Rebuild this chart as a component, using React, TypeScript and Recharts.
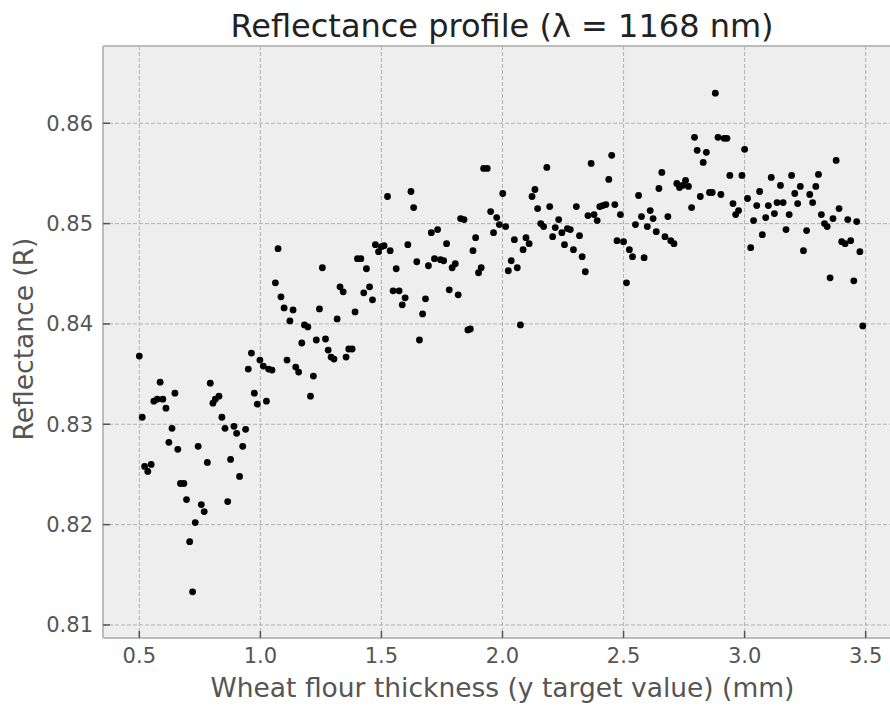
import { ScatterChart, Scatter, XAxis, YAxis, CartesianGrid, ReferenceLine } from "recharts";

// target flour thickness (mm) for each measurement
const thickness = [
  0.5, 0.512, 0.522, 0.535, 0.549, 0.56, 0.574, 0.586, 0.597, 0.61,
  0.622, 0.635, 0.647, 0.659, 0.67, 0.684, 0.695, 0.708, 0.72, 0.731,
  0.743, 0.756, 0.768, 0.781, 0.793, 0.804, 0.814, 0.829, 0.841, 0.854,
  0.865, 0.877, 0.891, 0.902, 0.914, 0.927, 0.939, 0.95, 0.963, 0.975,
  0.987, 0.998, 1.012, 1.025, 1.034, 1.048,
  1.062, 1.073, 1.085, 1.098, 1.11, 1.122, 1.135, 1.146, 1.158, 1.171,
  1.182, 1.196, 1.207, 1.219, 1.231, 1.244, 1.256, 1.269, 1.28, 1.292,
  1.304, 1.317, 1.329, 1.342, 1.354, 1.365, 1.379, 1.391, 1.401, 1.415,
  1.427, 1.438, 1.451, 1.463, 1.475, 1.488, 1.5, 1.511, 1.525, 1.536,
  1.548, 1.561, 1.573, 1.586, 1.598, 1.609, 1.622, 1.633, 1.646, 1.657,
  1.67, 1.682, 1.694, 1.706,
  1.719, 1.732, 1.744, 1.757, 1.769, 1.78, 1.792, 1.805, 1.817, 1.827,
  1.841, 1.857, 1.867, 1.878, 1.889, 1.901, 1.912, 1.922, 1.937, 1.951,
  1.963, 1.976, 1.987, 2.001, 2.013, 2.024, 2.036, 2.049, 2.061, 2.074,
  2.085, 2.097, 2.11, 2.122, 2.134, 2.145, 2.158, 2.17, 2.183, 2.195,
  2.207, 2.218, 2.232, 2.245, 2.256, 2.268, 2.28, 2.293, 2.305, 2.318,
  2.329, 2.342, 2.353, 2.366, 2.378, 2.391, 2.402, 2.414, 2.427, 2.439,
  2.451, 2.464, 2.473, 2.487,
  2.5, 2.512, 2.524, 2.537, 2.549, 2.562, 2.574, 2.585, 2.598, 2.61,
  2.622, 2.635, 2.646, 2.658, 2.671, 2.683, 2.695, 2.708, 2.72, 2.731,
  2.744, 2.756, 2.768, 2.781, 2.793, 2.804, 2.817, 2.829, 2.842, 2.855,
  2.866, 2.879, 2.89, 2.902, 2.915, 2.927, 2.939, 2.952, 2.963, 2.975,
  2.989, 3.0, 3.012, 3.025, 3.037, 3.05, 3.062, 3.073, 3.087, 3.098,
  3.11, 3.123, 3.134, 3.148, 3.159, 3.171, 3.184, 3.194, 3.207, 3.219,
  3.23, 3.243, 3.256, 3.269, 3.281, 3.294, 3.305, 3.317, 3.33, 3.341,
  3.353, 3.365, 3.378, 3.39, 3.401, 3.415, 3.426, 3.438, 3.451, 3.463,
  3.476, 3.488,
];

// measured reflectance at 1168 nm
const reflectance = [
  0.8368, 0.8307, 0.8258, 0.8253, 0.826, 0.8323, 0.8325, 0.8342, 0.8325, 0.8316,
  0.8282, 0.8296, 0.8331, 0.8275, 0.8241, 0.8241, 0.8225, 0.8183, 0.8133, 0.8202,
  0.8278, 0.822, 0.8213, 0.8262, 0.8341, 0.8321, 0.8325, 0.8328, 0.8307, 0.8296,
  0.8223, 0.8265, 0.8298, 0.8291, 0.8248, 0.8278, 0.8295, 0.8355, 0.8371, 0.8331,
  0.832, 0.8364, 0.8358, 0.8323, 0.8355, 0.8354,
  0.8441, 0.8475, 0.8427, 0.8416, 0.8364, 0.8403, 0.8414, 0.8357, 0.8352, 0.8381,
  0.8399, 0.8397, 0.8328, 0.8348, 0.8384, 0.8415, 0.8456, 0.8385, 0.8374, 0.8367,
  0.8365, 0.8405, 0.8437, 0.8432, 0.8367, 0.8375, 0.8375, 0.8412, 0.8465, 0.8465,
  0.8431, 0.8455, 0.8437, 0.8424, 0.8479, 0.8472, 0.8477, 0.8478, 0.8527, 0.8473,
  0.8433, 0.8455, 0.8433, 0.8419, 0.8426, 0.8479, 0.8532, 0.8516, 0.8462, 0.8384,
  0.841, 0.8425, 0.8458, 0.8491,
  0.8465, 0.8494, 0.8464, 0.8463, 0.848, 0.8434, 0.8456, 0.846, 0.8429, 0.8505,
  0.8504, 0.8394, 0.8395, 0.8473, 0.8486, 0.8451, 0.8456, 0.8555, 0.8555, 0.8512,
  0.8491, 0.8506, 0.8499, 0.853, 0.8497, 0.8453, 0.8463, 0.8484, 0.8456, 0.8399,
  0.8474, 0.8486, 0.848, 0.8527, 0.8534, 0.8515, 0.85, 0.8497, 0.8556, 0.8517,
  0.8487, 0.8496, 0.8504, 0.8491, 0.8479, 0.8495, 0.8494, 0.8474, 0.8517, 0.8488,
  0.8467, 0.8452, 0.8508, 0.856, 0.8509, 0.8503, 0.8517, 0.8518, 0.8519, 0.8544,
  0.8568, 0.8519, 0.8483, 0.8509,
  0.8482, 0.8441, 0.8474, 0.8467, 0.8499, 0.8528, 0.8507, 0.8466, 0.8497, 0.8513,
  0.8505, 0.8492, 0.8535, 0.8551, 0.8487, 0.8507, 0.8483, 0.848, 0.854, 0.8536,
  0.8538, 0.8543, 0.8537, 0.8516, 0.8586, 0.8573, 0.8527, 0.8561, 0.8571, 0.8531,
  0.8531, 0.863, 0.8586, 0.8529, 0.8585, 0.8585, 0.8548, 0.852, 0.8509, 0.8513,
  0.8548, 0.8574, 0.8525, 0.8476, 0.8503, 0.8518, 0.8532, 0.8489, 0.8506, 0.8518,
  0.8546, 0.851, 0.8521, 0.8538, 0.8521, 0.8494, 0.8509, 0.8548, 0.853, 0.852,
  0.8537, 0.8473, 0.8493, 0.8529, 0.8521, 0.8537, 0.8549, 0.8509, 0.85, 0.8497,
  0.8446, 0.8505, 0.8563, 0.8515, 0.8482, 0.848, 0.8504, 0.8483, 0.8443, 0.8502,
  0.8472, 0.8398,
];

const xTicks = [0.5, 1.0, 1.5, 2.0, 2.5, 3.0, 3.5];
const yTicks = [0.81, 0.82, 0.83, 0.84, 0.85, 0.86];
const X_DOMAIN = [0.35, 3.65];
const Y_DOMAIN = [0.8087, 0.8677];

const points = thickness.map((x, i) => ({ x, y: reflectance[i] }));

const TEXT = "#555555";
const FRAME = "#bcbcbc";
const FONT = "'DejaVu Sans', sans-serif";

// inward tick mark plus label; tickSize is 0 so y sits tickMargin below the frame
function XTick(props: any) {
  const { x, y, payload } = props;
  return (
    <g>
      <line x1={x} x2={x} y1={y - 10} y2={y - 17} stroke={TEXT} strokeWidth={1.5} />
      <text x={x} y={y} dy="0.71em" textAnchor="middle" fill={TEXT} fontSize={21} fontFamily={FONT}>
        {Number(payload.value).toFixed(1)}
      </text>
    </g>
  );
}

function YTick(props: any) {
  const { x, y, payload } = props;
  return (
    <g>
      <line x1={x + 10} x2={x + 17} y1={y} y2={y} stroke={TEXT} strokeWidth={1.5} />
      <text x={x} y={y} dy="0.355em" textAnchor="end" fill={TEXT} fontSize={21} fontFamily={FONT}>
        {Number(payload.value).toFixed(2)}
      </text>
    </g>
  );
}

export default function App() {
  return (
    <div
      style={{
        position: "absolute",
        left: 0,
        top: 0,
        width: 890,
        height: 705,
        overflow: "hidden",
        background: "#ffffff",
        fontFamily: FONT,
      }}
    >
      <div
        style={{
          position: "absolute",
          left: 0,
          top: 10,
          width: 1004,
          textAlign: "center",
          fontSize: 32,
          lineHeight: "32px",
          color: "#222222",
          whiteSpace: "nowrap",
        }}
      >
        Reflectance profile (λ = 1168 nm)
      </div>
      <ScatterChart width={902} height={705} margin={{ top: 46, right: 0, bottom: 0, left: 0 }}>
        <CartesianGrid fill="#eeeeee" stroke="#b2b2b2" strokeDasharray="4 2" strokeWidth={1} />
        <XAxis
          type="number"
          dataKey="x"
          domain={X_DOMAIN}
          ticks={xTicks}
          allowDataOverflow
          height={67}
          tickSize={0}
          tickMargin={10}
          tick={<XTick />}
          axisLine={{ stroke: FRAME, strokeWidth: 2 }}
          label={{
            value: "Wheat flour thickness (y target value) (mm)",
            position: "insideBottom",
            offset: 8,
            fill: TEXT,
            fontSize: 26.5,
            fontFamily: FONT,
          }}
        />
        <YAxis
          type="number"
          dataKey="y"
          domain={Y_DOMAIN}
          ticks={yTicks}
          allowDataOverflow
          width={103}
          tickSize={0}
          tickMargin={10}
          tick={<YTick />}
          axisLine={{ stroke: FRAME, strokeWidth: 2 }}
          label={{
            content: () => (
              <text
                x={0}
                y={0}
                transform="translate(33 339) rotate(-90)"
                textAnchor="middle"
                fill={TEXT}
                fontSize={26.5}
                fontFamily={FONT}
              >
                Reflectance (R)
              </text>
            ),
          }}
        />
        <ReferenceLine y={Y_DOMAIN[1]} stroke={FRAME} strokeWidth={2} />
        <Scatter
          data={points}
          isAnimationActive={false}
          shape={(p: any) => <circle cx={p.cx} cy={p.cy} r={3.4} fill="#000000" />}
        />
      </ScatterChart>
    </div>
  );
}
